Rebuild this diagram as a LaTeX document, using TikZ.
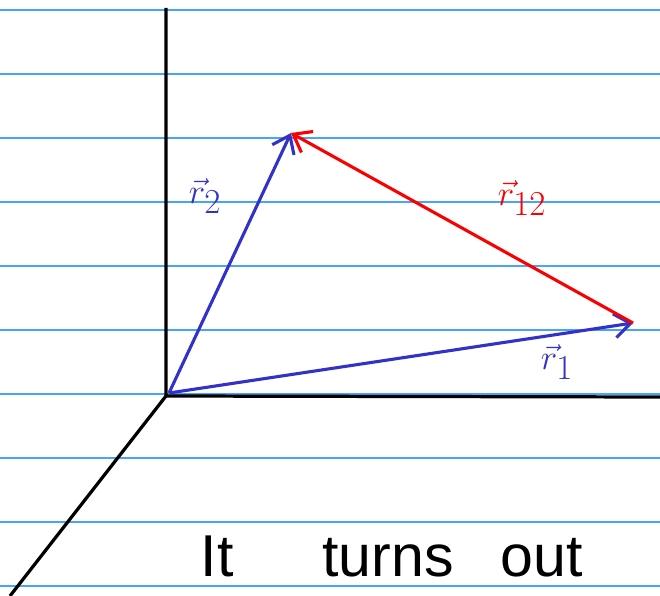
\documentclass[tikz,border=0pt]{standalone}
\usepackage{fontspec}
\setsansfont{Liberation Sans}
\usetikzlibrary{arrows.meta}
\definecolor{ruleblue}{RGB}{70,165,250}
\definecolor{penblue}{RGB}{50,50,200}
\definecolor{penred}{RGB}{250,0,0}
\begin{document}
\begin{tikzpicture}[x=0.025cm,y=-0.025cm,
    ruled/.style={ruleblue,line width=0.9pt},
    axis/.style={black,line width=2.3pt},
    vecblue/.style={penblue,line width=2.2pt,-{Straight Barb[length=4mm,width=6mm]}},
    vecred/.style={penred,line width=2.2pt,-{Straight Barb[length=4mm,width=6mm]}},
    lab/.style={font=\fontsize{36}{40}\selectfont}]
    \useasboundingbox (0,0) rectangle (660,596);
    \fill[white] (0,0) rectangle (660,596);
    % paper lines
    \foreach \y in {10,74,...,586}
        \draw[ruled] (0,\y) -- (660,\y);
    % axes
    \coordinate (O) at (166,396);
    \coordinate (ztop) at (166,8);
    \coordinate (xend) at (660,397);
    \coordinate (yend) at (10,596);
    \draw[axis] (ztop) -- (O) -- (xend);
    \draw[axis] (O) -- (yend);
    % vectors
    \coordinate (r0) at (169,393);
    \coordinate (P1) at (633,323);
    \coordinate (P2) at (291,133);
    \draw[vecblue] (r0) -- (P1);
    \draw[vecblue] (r0) -- (P2);
    \draw[vecred] (P1) -- (P2);
    \node[lab,penblue] (l2) at (205,196) {$\vec{r}_2$};
    \node[lab,penred] (l12) at (522,198) {$\vec{r}_{12}$};
    \node[lab,penblue] (l1) at (557,362) {$\vec{r}_1$};
    \node[font=\sffamily\fontsize{42}{50}\selectfont] (txt) at (392,556) {It\hspace{1.5em}turns\hspace{0.8em}out};
\end{tikzpicture}
\end{document}
